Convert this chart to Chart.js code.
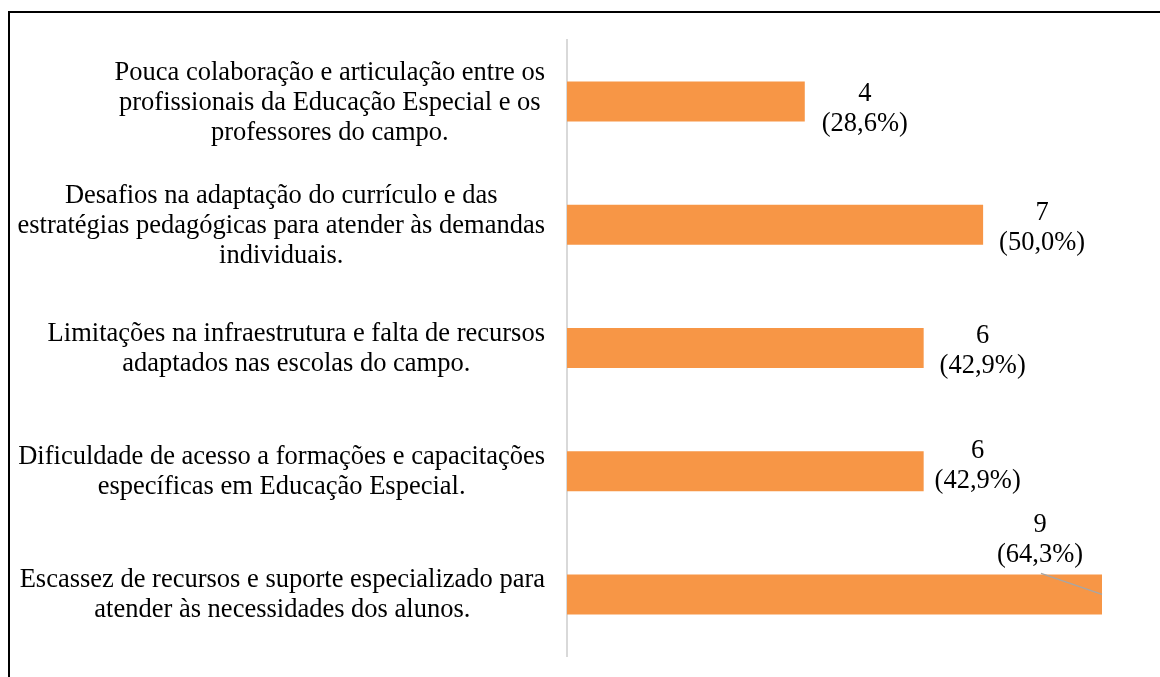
<!DOCTYPE html>
<html><head><meta charset="utf-8">
<script src="https://cdn.jsdelivr.net/npm/chart.js@4/dist/chart.umd.min.js"></script>
<style>
html,body{margin:0;padding:0;background:#fff;overflow:hidden}
#wrap{position:relative;width:1160px;height:677px;overflow:hidden}
#frame{position:absolute;left:8px;top:11px;width:1300px;height:800px;border-left:2px solid #000;border-top:2px solid #000}
canvas{position:absolute;left:0;top:0}
</style></head><body>
<div id="wrap"><div id="frame"></div><canvas id="c" width="1160" height="677"></canvas></div>
<script>
const categories = [
  ["Pouca colaboração e articulação entre os", "profissionais da Educação Especial e os", "professores do campo."],
  ["Desafios na adaptação do currículo e das", "estratégias pedagógicas para atender às demandas", "individuais."],
  ["Limitações na infraestrutura e falta de recursos", "adaptados nas escolas do campo."],
  ["Dificuldade de acesso a formações e capacitações", "específicas em Educação Especial."],
  ["Escassez de recursos e suporte especializado para", "atender às necessidades dos alunos."]
];
const counts = [4, 7, 6, 6, 9];
const percents = ["28,6%", "50,0%", "42,9%", "42,9%", "64,3%"];
const axisMax = 9;

const FONT = '26.5px "Liberation Serif", "Times New Roman", serif';
const LINE = 30;
// small manual placement nudges of the data labels (as in the original document)
const labelNudge = [{dx: 1, dy: 4}, {dx: 0, dy: 0}, {dx: 0, dy: 0}, {dx: -5, dy: -8}, {dx: 0, dy: 0}];

const categoryLabelsPlugin = {
  id: 'catLabels',
  afterDraw(chart) {
    const ctx = chart.ctx;
    const ys = chart.scales.y;
    const rightEdge = chart.chartArea.left - 22;
    ctx.save();
    ctx.font = FONT;
    ctx.fillStyle = '#000';
    ctx.textAlign = 'center';
    ctx.textBaseline = 'middle';
    chart.data.labels.forEach((lines, i) => {
      const y = ys.getPixelForValue(i);
      const w = Math.max(...lines.map(l => ctx.measureText(l).width));
      const cx = rightEdge - w / 2;
      lines.forEach((l, j) => {
        ctx.fillText(l, cx, y + (j - (lines.length - 1) / 2) * LINE + 1);
      });
    });
    ctx.restore();
  }
};

const valueLabelsPlugin = {
  id: 'valLabels',
  afterDatasetsDraw(chart) {
    const ctx = chart.ctx;
    const meta = chart.getDatasetMeta(0);
    ctx.save();
    ctx.font = FONT;
    ctx.fillStyle = '#000';
    ctx.textAlign = 'center';
    ctx.textBaseline = 'middle';
    meta.data.forEach((bar, i) => {
      const lines = [String(counts[i]), '(' + percents[i] + ')'];
      const h = bar.height;
      const n = labelNudge[i];
      const outside = bar.x + 59 + 45 <= chart.width;
      if (outside) {
        const cx = bar.x + 59 + n.dx;
        const cy = bar.y + n.dy;
        ctx.fillText(lines[0], cx, cy - 12);
        ctx.fillText(lines[1], cx, cy + 18);
      } else {
        const cx = bar.x - 62;
        ctx.fillText(lines[0], cx, bar.y - 69);
        ctx.fillText(lines[1], cx, bar.y - 39);
        ctx.strokeStyle = '#a6a6a6';
        ctx.lineWidth = 1.5;
        ctx.beginPath();
        ctx.moveTo(cx + 1, bar.y - h / 2 - 1);
        ctx.lineTo(bar.x, bar.y);
        ctx.stroke();
      }
    });
    ctx.restore();
  }
};

new Chart(document.getElementById('c'), {
  type: 'bar',
  data: {
    labels: categories,
    datasets: [{
      data: counts,
      backgroundColor: '#F79646',
      borderWidth: 0,
      barPercentage: 0.65,
      categoryPercentage: 0.5
    }]
  },
  options: {
    indexAxis: 'y',
    responsive: false,
    animation: false,
    devicePixelRatio: 1,
    layout: { padding: { left: 567, right: 58, top: 40, bottom: 21 } },
    plugins: { legend: { display: false }, tooltip: { enabled: false } },
    scales: {
      x: { display: false, min: 0, max: axisMax },
      y: {
        display: true,
        ticks: { display: false },
        grid: { display: false, drawTicks: false },
        border: { display: true, color: '#d9d9d9', width: 2 }
      }
    }
  },
  plugins: [categoryLabelsPlugin, valueLabelsPlugin]
});
</script>
</body></html>
